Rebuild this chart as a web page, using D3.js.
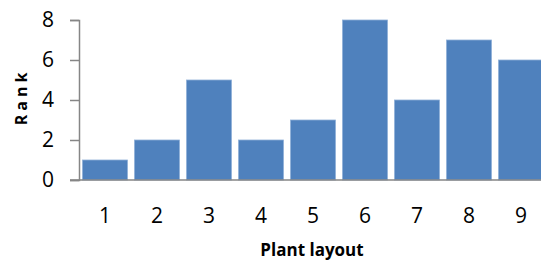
<!doctype html>
<html>
<head>
<meta charset="utf-8">
<title>Plant layout rank</title>
<style>
*{margin:0;padding:0;}
body{background:white;}
text{font-family:"Open Sans","Liberation Sans",sans-serif;}
</style>
</head>
<body>
<script src="https://cdn.jsdelivr.net/npm/d3@7"></script>
<script>
// data
var layouts = ["1","2","3","4","5","6","7","8","9"];
var ranks = [1,2,5,2,3,8,4,7,6];
var yTicks = [0,2,4,6,8];

var svg = d3.select("body").append("svg")
  .attr("width",541).attr("height",262);

var x = d3.scaleBand().domain(layouts).range([79,547])
  .paddingInner(0.135).paddingOuter(0.0675);
var y = d3.scaleLinear().domain([0,8]).range([180,20]);

// bars
svg.selectAll("rect.bar").data(ranks).enter().append("rect")
  .attr("class","bar")
  .attr("x",function(d,i){return x(layouts[i]);})
  .attr("y",function(d){return y(d);})
  .attr("width",x.bandwidth())
  .attr("height",function(d){return y(0)-y(d);})
  .attr("fill","#4f81bd")
  .attr("stroke","#8fb0d8")
  .attr("stroke-width",0.8);

// y axis
var yAxis = svg.append("g").attr("transform","translate(79,0)")
  .call(d3.axisLeft(y).tickValues(yTicks).tickSize(9).tickPadding(16));
yAxis.select(".domain").attr("stroke","#868686").attr("stroke-width",1.5);
yAxis.selectAll(".tick line").attr("stroke","#868686").attr("stroke-width",1.5);
yAxis.selectAll("text").attr("font-size","21px").attr("fill","#000")
  .style("font-family","'Open Sans','Liberation Sans',sans-serif");

// x axis line
svg.append("line").attr("x1",70).attr("x2",541).attr("y1",180).attr("y2",180)
  .attr("stroke","#868686").attr("stroke-width",1.5);

// x labels
svg.selectAll("text.xl").data(layouts).enter().append("text")
  .attr("class","xl")
  .attr("x",function(d){return x(d)+x.bandwidth()/2;})
  .attr("y",223)
  .attr("text-anchor","middle")
  .attr("font-size","21px")
  .text(function(d){return d;});

// axis titles
svg.append("text")
  .attr("transform","translate(27,97) rotate(-90)")
  .attr("text-anchor","middle")
  .attr("font-size","16px").attr("font-weight","bold")
  .attr("letter-spacing","4px")
  .text("Rank");

svg.append("text")
  .attr("x",312).attr("y",256)
  .attr("text-anchor","middle")
  .attr("font-size","17px").attr("font-weight","bold")
  .text("Plant layout");
</script>
</body>
</html>
